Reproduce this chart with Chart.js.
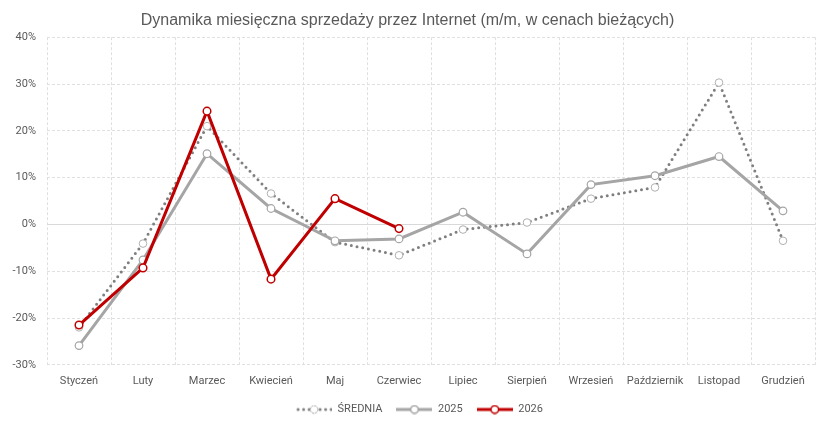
<!DOCTYPE html>
<html>
<head>
<meta charset="utf-8">
<script src="https://cdn.jsdelivr.net/npm/chart.js@4"></script>
<style>
  html, body { margin: 0; padding: 0; background: #fff; }
  #wrap { width: 831px; height: 422px; }
</style>
</head>
<body>
<div id="wrap"><canvas id="chart"></canvas></div>
<script>
// data
const months = ['Styczeń', 'Luty', 'Marzec', 'Kwiecień', 'Maj', 'Czerwiec', 'Lipiec', 'Sierpień', 'Wrzesień', 'Październik', 'Listopad', 'Grudzień'];
const avgValues = [-22.0, -4.1, 21.0, 6.6, -3.8, -6.6, -1.1, 0.4, 5.5, 7.9, 30.3, -3.5];
const values2025 = [-25.9, -7.6, 15.1, 3.4, -3.5, -3.1, 2.6, -6.3, 8.5, 10.4, 14.5, 2.9];
const values2026 = [-21.5, -9.3, 24.2, -11.7, 5.5, -0.9];
const yTicks = [40, 30, 20, 10, 0, -10, -20, -30];

const GREY_DOT = '#7f7f7f';
const GREY = '#a5a5a5';
const RED = '#c00000';
const TEXT = '#595959';
const GRID = '#e0e0e0';

// legend sample: short line with a hollow marker in the middle
const legendIcon = (color, dotted) => {
  const c = document.createElement('canvas');
  c.width = 36;
  c.height = 10;
  const g = c.getContext('2d');
  g.strokeStyle = color;
  g.lineWidth = 3;
  g.lineCap = dotted ? 'round' : 'butt';
  g.setLineDash(dotted ? [0, 5.5] : []);
  g.beginPath();
  g.moveTo(dotted ? 2 : 0, 5);
  g.lineTo(36, 5);
  g.stroke();
  g.setLineDash(dotted ? [1.5, 1.5] : []);
  g.lineWidth = dotted ? 1 : 1.5;
  g.fillStyle = '#fff';
  g.beginPath();
  g.arc(18, 5, 3.8, 0, Math.PI * 2);
  g.fill();
  g.strokeStyle = dotted ? GREY : color;
  g.stroke();
  return c;
};

// legend: take less room under the axis, and sit a bit right, like in the original
const legendTweak = {
  id: 'legendTweak',
  afterInit(chart) {
    const lg = chart.legend;
    if (!lg) return;
    const fit = lg.fit.bind(lg);
    lg.fit = function () {
      fit();
      this.height -= 8;
    };
  },
  afterLayout(chart) {
    const lg = chart.legend;
    if (!lg) return;
    lg.left += 12;
    lg.right += 12;
    lg.top -= 8;
    lg.bottom -= 8;
  },
};

const ctx = document.getElementById('chart').getContext('2d');

new Chart(ctx, {
  type: 'line',
  data: {
    labels: months,
    datasets: [
      {
        label: 'ŚREDNIA',
        data: avgValues,
        order: 2,
        borderColor: GREY_DOT,
        borderWidth: 3,
        borderDash: [0, 5.8],
        borderCapStyle: 'round',
        pointRadius: 3.8,
        pointBackgroundColor: '#fff',
        pointBorderColor: '#b0b0b0',
        pointBorderWidth: 1,
        pointStyle: 'circle',
        icon: legendIcon(GREY_DOT, true),
      },
      {
        label: '2025',
        data: values2025,
        order: 1,
        borderColor: GREY,
        borderWidth: 3,
        pointRadius: 3.8,
        pointBackgroundColor: '#fff',
        pointBorderColor: GREY,
        pointBorderWidth: 1.2,
        icon: legendIcon(GREY, false),
      },
      {
        label: '2026',
        data: values2026,
        order: 0,
        borderColor: RED,
        borderWidth: 3,
        pointRadius: 3.8,
        pointBackgroundColor: '#fff',
        pointBorderColor: RED,
        pointBorderWidth: 1.5,
        icon: legendIcon(RED, false),
      },
    ],
  },
  plugins: [legendTweak],
  options: {
    responsive: true,
    maintainAspectRatio: false,
    animation: false,
    tension: 0,
    layout: { padding: { left: 0, right: 16, top: 0, bottom: -3 } },
    plugins: {
      title: {
        display: true,
        text: 'Dynamika miesięczna sprzedaży przez Internet (m/m, w cenach bieżących)',
        color: TEXT,
        font: { family: 'Liberation Sans', size: 16, weight: 'normal' },
        padding: { top: 11, bottom: 7 },
      },
      legend: {
        position: 'bottom',
        labels: {
          usePointStyle: true,
          pointStyleWidth: 36,
          color: TEXT,
          font: { family: 'Roboto', size: 11 },
          padding: 14,
          generateLabels: (chart) => chart.data.datasets.map((ds, i) => ({
            text: ds.label,
            pointStyle: ds.icon,
            fontColor: TEXT,
            hidden: false,
            datasetIndex: i,
            lineWidth: 0,
          })),
        },
      },
      tooltip: { enabled: false },
    },
    scales: {
      x: {
        offset: true,
        grid: {
          offset: true,
          color: GRID,
          lineWidth: 1,
          drawTicks: false,
        },
        border: { display: false, dash: [3, 2] },
        ticks: {
          color: TEXT,
          font: { family: 'Roboto', size: 11 },
          padding: 10,
          maxRotation: 0,
          autoSkip: false,
        },
      },
      y: {
        min: -30,
        max: 40,
        afterBuildTicks: (scale) => {
          scale.ticks = yTicks.map(v => ({ value: v }));
        },
        afterFit: (scale) => {
          scale.width = 47;
        },
        grid: {
          color: (c) => (c.tick && c.tick.value === 0 ? '#d9d9d9' : GRID),
          lineWidth: 1,
          drawTicks: false,
        },
        border: {
          display: false,
          dash: (c) => (c.tick && c.tick.value === 0 ? [] : [3, 2]),
        },
        ticks: {
          color: TEXT,
          font: { family: 'Roboto', size: 11 },
          padding: 11,
          callback: (v) => v + '%',
        },
      },
    },
  },
});
</script>
</body>
</html>
